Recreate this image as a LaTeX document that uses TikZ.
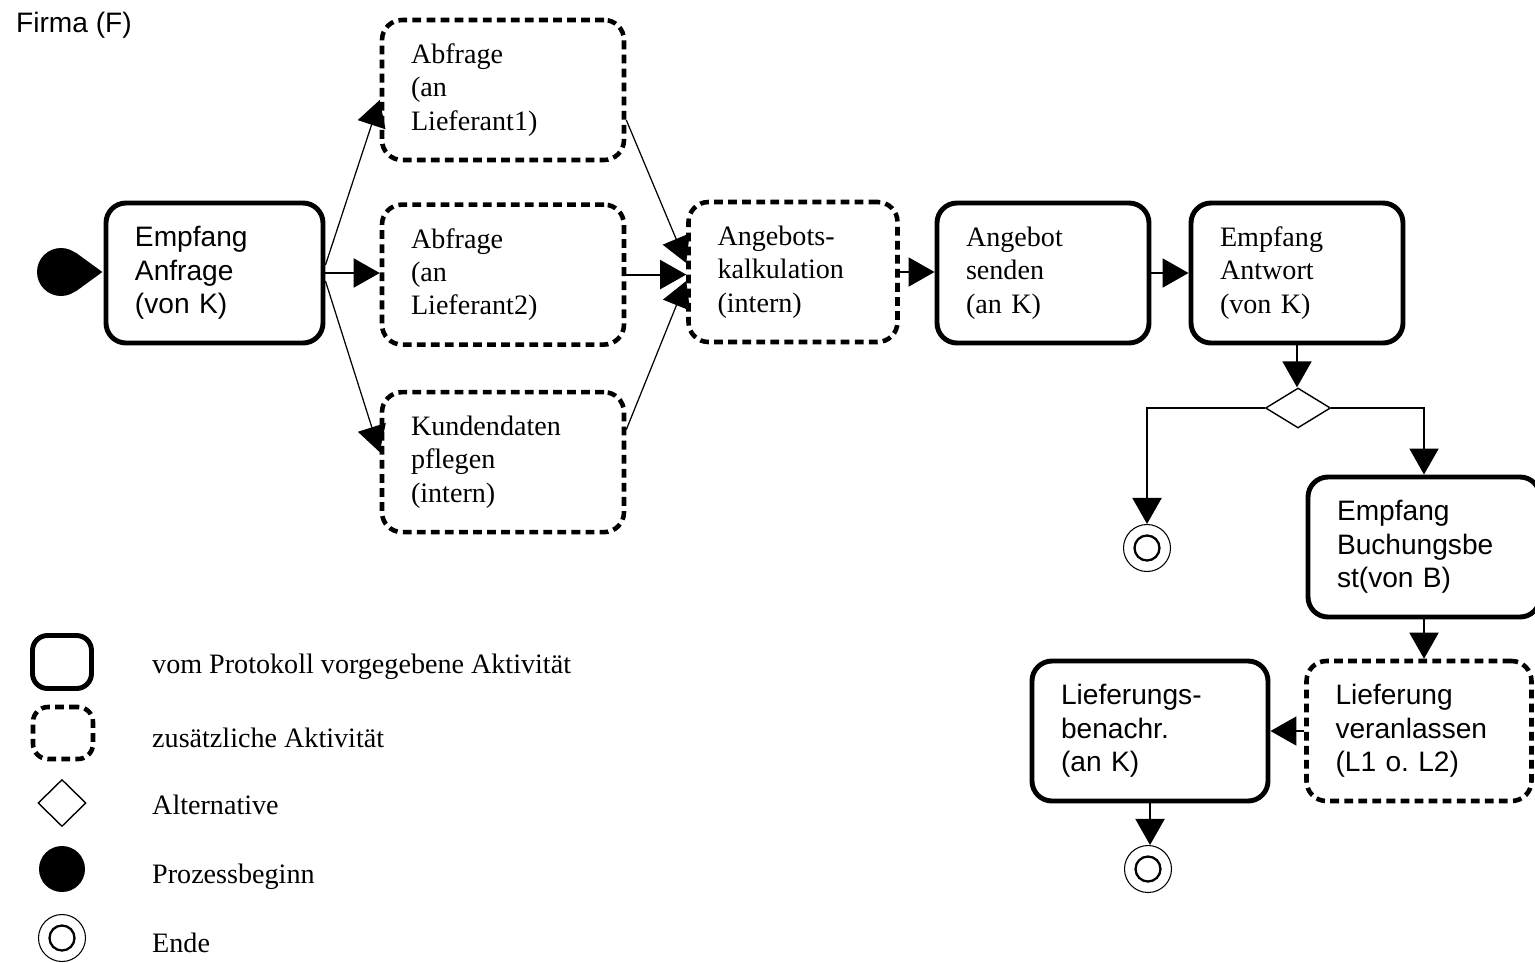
\documentclass[tikz,border=0pt]{standalone}
\usepackage{fontspec}
\setmainfont{Liberation Serif}
\setsansfont{Liberation Sans}
\usetikzlibrary{arrows.meta, positioning, shapes.geometric}
\tikzset{
  >={Triangle[length=5.2mm, width=5.8mm]},
  act/.style={draw, rounded corners=4mm, align=left, inner xsep=5.8mm, inner ysep=0pt,
    minimum height=28mm, font=\fontsize{16}{19}\selectfont},
  given/.style={act, line width=2.8pt},
  extra/.style={act, line width=2.6pt, dash pattern=on 5pt off 3pt},
  sans/.style={font=\sffamily\fontsize{16}{19}\selectfont},
  flow/.style={->, line width=1.1pt},
  fan/.style={->, line width=0.7pt},
  choice/.style={diamond, draw, line width=0.8pt, aspect=1.6, inner sep=0pt},
  begev/.style={circle, fill, minimum size=9.6mm, inner sep=0pt},
  ende/.style={circle, draw, line width=0.6pt, minimum size=9.4mm, inner sep=0pt,
    path picture={\draw[line width=1.3pt] (path picture bounding box.center) circle (2.5mm);}},
  lab/.style={anchor=west, font=\fontsize{16}{19}\selectfont},
}
\begin{document}
\begin{tikzpicture}[x=0.2mm, y=-0.2mm]
  \fill[white, use as bounding box] (0,0) rectangle (1535,962);

  \node[sans, anchor=west] (firma) at (10,25) {Firma (F)};

  % start event
  \node[begev] (beg) at (61,272) {};
  \fill (beg.54) -- ([xshift=3.4mm]beg.east) -- (beg.-54) -- cycle;

  \node[given, sans, text width=31.8mm] (ea) at (214.5,273) {Empfang\\Anfrage\\(von K)};
  \node[extra, text width=36.8mm] (ab1) at (503,90) {Abfrage\\(an\\Lieferant1)};
  \node[extra, text width=36.8mm, below=8mm of ab1] (ab2) {Abfrage\\(an\\Lieferant2)};
  \node[extra, text width=36.8mm, below=8.6mm of ab2] (kd) {Kundendaten\\pflegen\\(intern)};
  \node[extra, text width=30.2mm] (ak) at (793,272) {Angebots-\\kalkulation\\(intern)};
  \node[given, text width=30.8mm] (as) at (1043,273) {Angebot\\senden\\(an K)};
  \node[given, text width=30.8mm] (eant) at (1297,273) {Empfang\\Antwort\\(von K)};

  \node[choice, minimum width=13mm, minimum height=8mm] (dia) at (1298,408) {};
  \node[ende] (e1) at (1147,548) {};

  \node[given, sans, text width=34.8mm] (eb) at (1424,547) {Empfang\\Buchungsbe\\st(von B)};
  \node[extra, sans, text width=33.4mm] (lv) at (1419,731) {Lieferung\\veranlassen\\(L1 o.\ L2)};
  \node[given, sans, text width=35.6mm] (lb) at (1150,731) {Lieferungs-\\benachr.\\(an K)};
  \node[ende] (e2) at (1148,869) {};

  % connectors
  \draw[fan] ([yshift=1.6mm]ea.east) -- ([yshift=-2mm]ab1.west);
  \draw[flow] (ea.east) -- (ea.east -| ab2.west);
  \draw[fan] ([yshift=-1.6mm]ea.east) -- ([yshift=2mm]kd.west);
  \draw[fan] ([yshift=-6mm]ab1.east) -- ([yshift=1.8mm]ak.west);
  \draw[flow] (ab2.east) -- (ab2.east -| ak.west);
  \draw[fan] ([yshift=6.5mm]kd.east) -- ([yshift=-1.8mm]ak.west);
  \draw[flow] (ak.east) -- (ak.east -| as.west);
  \draw[flow] (as) -- (eant);
  \draw[flow] (eant.south) -- (eant.south |- dia.north);
  \draw[flow] (dia.west) -| (e1.north);
  \draw[flow] (dia.east) -| (eb.north);
  \draw[flow] (eb.south) -- (eb.south |- lv.north);
  \draw[flow] (lv) -- (lb);
  \draw[flow] (lb.south) -- (lb.south |- e2.north);

  % legend
  \node[given, minimum width=11.8mm, minimum height=10.6mm, rounded corners=3mm, inner sep=0pt] (lg1) at (62,662) {};
  \node[extra, minimum width=12mm, minimum height=10.4mm, rounded corners=3mm, inner sep=0pt] (lg2) at (63,733) {};
  \node[choice, minimum width=9.6mm, minimum height=9.4mm] (lg3) at (62,803) {};
  \node[begev, minimum size=9.2mm] (lg4) at (62,869) {};
  \node[ende] (lg5) at (62,938) {};
  \node[lab] (t1) at (146,667) {vom Protokoll vorgegebene Aktivität};
  \node[lab] (t2) at (146,738) {zusätzliche Aktivität};
  \node[lab] (t3) at (146,805) {Alternative};
  \node[lab] (t4) at (146,877) {Prozessbeginn};
  \node[lab] (t5) at (146,943) {Ende};
\end{tikzpicture}
\end{document}
